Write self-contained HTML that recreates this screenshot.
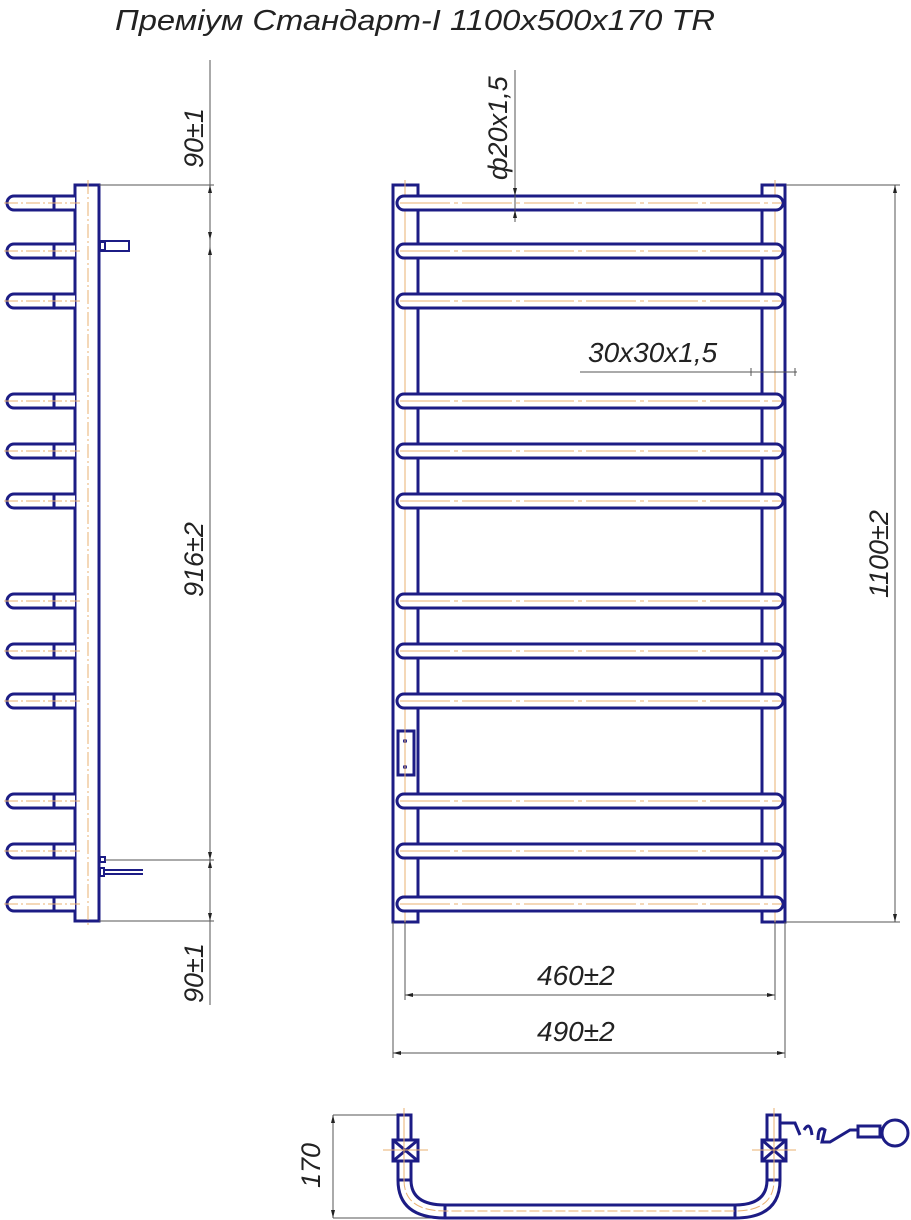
<!DOCTYPE html>
<html><head><meta charset="utf-8"><style>
html,body{margin:0;padding:0;background:#fff;width:911px;height:1220px;overflow:hidden}
svg{display:block}
text{font-family:"Liberation Sans",sans-serif;font-style:italic;fill:#222}
</style></head><body>
<svg width="911" height="1220" viewBox="0 0 911 1220" xmlns="http://www.w3.org/2000/svg">
<text x="115" y="30" font-size="29" textLength="600" lengthAdjust="spacingAndGlyphs">Преміум Стандарт-I 1100x500x170 TR</text>

<!-- SIDE VIEW -->
<g fill="none" stroke="#1c1c85" stroke-width="3">
<rect x="75" y="185" width="24" height="736" fill="#fff"/>
</g>
<line x1="88" y1="180" x2="88" y2="925" stroke="#e8b070" stroke-width="1" stroke-dasharray="14,3,2,3"/>
<g fill="#fff" stroke="#1c1c85" stroke-width="3">
<path d="M75 196 H14 A7 7 0 0 0 14 210 H75 M54 196 V210"/>
<path d="M75 244 H14 A7 7 0 0 0 14 258 H75 M54 244 V258"/>
<path d="M75 294 H14 A7 7 0 0 0 14 308 H75 M54 294 V308"/>
<path d="M75 394 H14 A7 7 0 0 0 14 408 H75 M54 394 V408"/>
<path d="M75 444 H14 A7 7 0 0 0 14 458 H75 M54 444 V458"/>
<path d="M75 494 H14 A7 7 0 0 0 14 508 H75 M54 494 V508"/>
<path d="M75 594 H14 A7 7 0 0 0 14 608 H75 M54 594 V608"/>
<path d="M75 644 H14 A7 7 0 0 0 14 658 H75 M54 644 V658"/>
<path d="M75 694 H14 A7 7 0 0 0 14 708 H75 M54 694 V708"/>
<path d="M75 794 H14 A7 7 0 0 0 14 808 H75 M54 794 V808"/>
<path d="M75 844 H14 A7 7 0 0 0 14 858 H75 M54 844 V858"/>
<path d="M75 897 H14 A7 7 0 0 0 14 911 H75 M54 897 V911"/>
</g>
<g stroke="#e8b070" stroke-width="1" stroke-dasharray="14,3,2,3">
<line x1="4" y1="203" x2="80" y2="203"/><line x1="4" y1="251" x2="80" y2="251"/><line x1="4" y1="301" x2="80" y2="301"/>
<line x1="4" y1="401" x2="80" y2="401"/><line x1="4" y1="451" x2="80" y2="451"/><line x1="4" y1="501" x2="80" y2="501"/>
<line x1="4" y1="601" x2="80" y2="601"/><line x1="4" y1="651" x2="80" y2="651"/><line x1="4" y1="701" x2="80" y2="701"/>
<line x1="4" y1="801" x2="80" y2="801"/><line x1="4" y1="851" x2="80" y2="851"/><line x1="4" y1="904" x2="80" y2="904"/>
</g>
<g fill="none" stroke="#1c1c85" stroke-width="2">
<rect x="100" y="241" width="29" height="10"/><rect x="100" y="242" width="5" height="8"/>
<rect x="100" y="857" width="5" height="5"/><rect x="100" y="868" width="4" height="8"/>
<path d="M104 870 H143 M104 874 H143"/>
</g>
<g stroke="#555" stroke-width="1" fill="none">
<line x1="99" y1="185" x2="214" y2="185"/>
<line x1="105" y1="860" x2="214" y2="860"/>
<line x1="99" y1="921" x2="214" y2="921"/>
<line x1="210" y1="60" x2="210" y2="1005"/>
</g>
<g fill="#222">
<path d="M210 185 l-2 8 h4z M210 240 l-2 -8 h4z M210 247 l-2 8 h4z M210 860 l-2 -8 h4z M210 860 l-2 8 h4z M210 921 l-2 -8 h4z"/>
</g>
<text font-size="27" transform="translate(203,168) rotate(-90)">90±1</text>
<text font-size="27" transform="translate(203,597) rotate(-90)">916±2</text>
<text font-size="27" transform="translate(203,1003) rotate(-90)">90±1</text>

<!-- FRONT VIEW -->
<g fill="#fff" stroke="#1c1c85" stroke-width="3">
<rect x="393" y="185" width="25" height="737"/>
<rect x="762" y="185" width="23" height="737"/>
<rect x="398" y="731" width="16" height="44"/>
</g>
<circle cx="405" cy="741" r="2" fill="#1c1c85"/><circle cx="405" cy="767" r="2" fill="#1c1c85"/>
<g stroke="#e8b070" stroke-width="1">
<line x1="405" y1="180" x2="405" y2="925"/><line x1="775" y1="180" x2="775" y2="925"/>
</g>
<g fill="#fff" stroke="#1c1c85" stroke-width="3">
<rect x="397" y="196" width="386" height="14" rx="7"/>
<rect x="397" y="244" width="386" height="14" rx="7"/>
<rect x="397" y="294" width="386" height="14" rx="7"/>
<rect x="397" y="394" width="386" height="14" rx="7"/>
<rect x="397" y="444" width="386" height="14" rx="7"/>
<rect x="397" y="494" width="386" height="14" rx="7"/>
<rect x="397" y="594" width="386" height="14" rx="7"/>
<rect x="397" y="644" width="386" height="14" rx="7"/>
<rect x="397" y="694" width="386" height="14" rx="7"/>
<rect x="397" y="794" width="386" height="14" rx="7"/>
<rect x="397" y="844" width="386" height="14" rx="7"/>
<rect x="397" y="897" width="386" height="14" rx="7"/>
</g>
<g stroke="#e8b070" stroke-width="1" stroke-dasharray="50,4,4,4">
<line x1="400" y1="203" x2="782" y2="203"/><line x1="400" y1="251" x2="782" y2="251"/><line x1="400" y1="301" x2="782" y2="301"/>
<line x1="400" y1="401" x2="782" y2="401"/><line x1="400" y1="451" x2="782" y2="451"/><line x1="400" y1="501" x2="782" y2="501"/>
<line x1="400" y1="601" x2="782" y2="601"/><line x1="400" y1="651" x2="782" y2="651"/><line x1="400" y1="701" x2="782" y2="701"/>
<line x1="400" y1="801" x2="782" y2="801"/><line x1="400" y1="851" x2="782" y2="851"/><line x1="400" y1="904" x2="782" y2="904"/>
</g>
<g stroke="#555" stroke-width="1" fill="none">
<line x1="786" y1="185" x2="900" y2="185"/><line x1="786" y1="922" x2="900" y2="922"/>
<line x1="895" y1="185" x2="895" y2="922"/>
<line x1="393" y1="922" x2="393" y2="1058"/><line x1="785" y1="922" x2="785" y2="1058"/>
<line x1="405" y1="922" x2="405" y2="1000"/><line x1="775" y1="922" x2="775" y2="1000"/>
<line x1="405" y1="995" x2="775" y2="995"/><line x1="393" y1="1053" x2="785" y2="1053"/>
<line x1="515" y1="70" x2="515" y2="222"/>
<line x1="580" y1="372" x2="797" y2="372"/>
<line x1="751" y1="368" x2="751" y2="376"/><line x1="795" y1="368" x2="795" y2="376"/>
</g>
<g fill="#222">
<path d="M895 185 l-2 8 h4z M895 922 l-2 -8 h4z M405 995 l8 -2 v4z M775 995 l-8 -2 v4z M393 1053 l8 -2 v4z M785 1053 l-8 -2 v4z M515 196 l-2 -8 h4z M515 210 l-2 8 h4z"/>
</g>
<text x="537" y="985" font-size="28">460±2</text>
<text x="537" y="1041" font-size="28">490±2</text>
<text x="588" y="362" font-size="28">30x30x1,5</text>
<text font-size="27" transform="translate(507,180) rotate(-90)">ф20x1,5</text>
<text font-size="27" transform="translate(888,598) rotate(-90)">1100±2</text>

<!-- BOTTOM VIEW -->
<g stroke="#555" stroke-width="1" fill="none">
<line x1="333" y1="1115" x2="400" y2="1115"/><line x1="333" y1="1218" x2="445" y2="1218"/>
<line x1="333" y1="1115" x2="333" y2="1218"/>
</g>
<path d="M333 1115 l-2 8 h4z M333 1218 l-2 -8 h4z" fill="#222"/>
<text font-size="27" transform="translate(320,1188) rotate(-90)">170</text>
<g fill="#fff" stroke="#1c1c85" stroke-width="3">
<path d="M398 1161 V1180 Q398 1218 445 1218 H735 Q780 1218 780 1180 V1161 M767 1161 V1180 Q767 1205 735 1205 H445 Q411 1205 411 1180 V1161"/>
<line x1="445" y1="1205" x2="445" y2="1218"/><line x1="735" y1="1205" x2="735" y2="1218"/>
<line x1="398" y1="1180" x2="411" y2="1180"/><line x1="767" y1="1180" x2="780" y2="1180"/>
<rect x="398" y="1115" width="13" height="25"/><rect x="767" y="1115" width="13" height="25"/>
<rect x="393" y="1140" width="25" height="21"/><rect x="762" y="1140" width="24" height="21"/>
<path d="M393 1140 L418 1161 M418 1140 L393 1161 M762 1140 L786 1161 M786 1140 L762 1161" fill="none"/>
<path d="M780 1123 H795 L800 1135 M804 1130 Q810 1120 812 1135 M818 1140 Q818 1125 825 1130 L822 1142 H830 L850 1130 H860" fill="none"/>
<rect x="858" y="1126" width="22" height="11"/>
<circle cx="895" cy="1133" r="13"/>
</g>
<g stroke="#e8b070" stroke-width="1" fill="none">
<line x1="404" y1="1108" x2="404" y2="1180"/><line x1="774" y1="1108" x2="774" y2="1180"/>
<line x1="383" y1="1150" x2="428" y2="1150"/><line x1="752" y1="1150" x2="796" y2="1150"/>
<path d="M404 1180 Q404 1211 445 1211 H735 Q774 1211 774 1180" stroke-dasharray="10,3"/>
</g>
</svg>
</body></html>
